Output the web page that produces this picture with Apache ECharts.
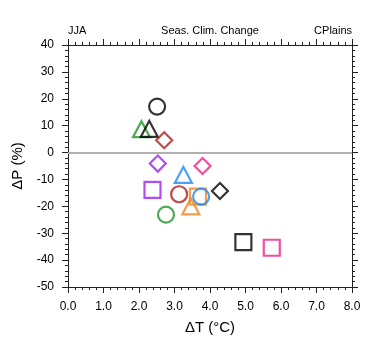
<!DOCTYPE html>
<html>
<head>
<meta charset="utf-8">
<script src="https://cdn.jsdelivr.net/npm/echarts@6/dist/echarts.min.js"></script>
<style>html,body{margin:0;padding:0;background:#fff;}#c{width:380px;height:355px;}</style>
</head>
<body>
<div id="c"></div>
<script>
// Data
const deltaT = [2.51, 2.07, 2.29, 2.71, 2.53, 3.79, 3.25, 2.38, 3.13, 3.66, 3.75, 4.28, 3.46, 2.76, 4.94, 5.74];
const deltaP = [17.1, 8.7, 8.8, 4.6, -4.1, -5.0, -8.3, -13.9, -15.5, -16.4, -16.4, -14.3, -20.0, -23.1, -33.3, -35.4];
const xTickLabels = ['0.0','1.0','2.0','3.0','4.0','5.0','6.0','7.0','8.0'];
const yTickValues = [-50,-40,-30,-20,-10,0,10,20,30,40];
const titles = ['JJA', 'Seas. Clim. Change', 'CPlains'];

// Styles (kept apart from data)
const markerSymbols = ['circle','triangle','triangle','diamond','diamond','diamond','triangle','rect','circle','rect','circle','diamond','triangle','circle','rect','rect'];
const markerColors = ['#000000','#22962a','#000000','#b01e1e','#a020f0','#f0208a','#1e88f0','#a020f0','#b01e1e','#f0841e','#1e88f0','#000000','#f0841e','#22962a','#000000','#f0208a'];
const symbolSizes = {circle:[16,16], triangle:[17,16], diamond:[16,16], rect:[16,16]};

const chart = echarts.init(document.getElementById('c'), null, {renderer:'canvas'});
const font = 'Liberation Sans, Arial, Helvetica, sans-serif';
const axisCommon = {
  axisLine: {show:true, onZero:false, lineStyle:{color:'#222', width:1}},
  axisTick: {show:true, inside:false, length:6, lineStyle:{color:'#222', width:1}},
  minorTick: {show:true, splitNumber:5, length:3, lineStyle:{color:'#222', width:1}},
  splitLine: {show:false},
  minorSplitLine: {show:false}
};

const series = deltaT.map((t, i) => ({
  type: 'scatter',
  xAxisIndex: 0, yAxisIndex: 0,
  symbol: markerSymbols[i],
  symbolSize: symbolSizes[markerSymbols[i]],
  itemStyle: {color:'rgba(0,0,0,0)', borderColor: markerColors[i], borderWidth: 2.2},
  emphasis: {disabled:true},
  z: 3,
  data: [[t, deltaP[i]]]
}));
series.unshift({
  type: 'line', data: [], xAxisIndex:0, yAxisIndex:0,
  markLine: {silent:true, symbol:['none','none'], label:{show:false},
    lineStyle:{color:'#b0b0b0', width:2, type:'solid'}, data:[{yAxis:0}]},
  z: 1
});

chart.setOption({
  animation: false,
  backgroundColor: '#fff',
  grid: {left:68, right:28, top:45, bottom:68, containLabel:false},
  xAxis: [
    Object.assign({type:'value', min:0, max:8, interval:1, position:'bottom',
      axisLabel:{margin:14, color:'#000', fontSize:12, fontFamily:font,
        formatter: v => xTickLabels[Math.round(v)]},
      name:'\u0394T (\u00B0C)', nameLocation:'middle', nameGap:33,
      nameTextStyle:{color:'#000', fontSize:15, fontFamily:font}}, axisCommon),
    Object.assign({type:'value', min:0, max:8, interval:1, position:'top',
      axisLabel:{show:false}}, axisCommon)
  ],
  yAxis: [
    Object.assign({type:'value', min:-50, max:40, interval:10, position:'left',
      axisLabel:{margin:14, color:'#000', fontSize:12, fontFamily:font,
        formatter: v => yTickValues.includes(v) ? String(v) : ''},
      name:'\u0394P (%)', nameLocation:'middle', nameGap:41, nameRotate:90,
      nameTextStyle:{color:'#000', fontSize:15, fontFamily:font}}, axisCommon),
    Object.assign({type:'value', min:-50, max:40, interval:10, position:'right',
      axisLabel:{show:false}}, axisCommon)
  ],
  graphic: [
    {type:'text', x:68, y:31, style:{text:titles[0], textAlign:'left', textVerticalAlign:'middle', fill:'#000', font:'11px ' + font}},
    {type:'text', x:210, y:31, style:{text:titles[1], textAlign:'center', textVerticalAlign:'middle', fill:'#000', font:'11px ' + font}},
    {type:'text', x:352, y:31, style:{text:titles[2], textAlign:'right', textVerticalAlign:'middle', fill:'#000', font:'11px ' + font}}
  ],
  series: series
});
</script>
</body>
</html>
